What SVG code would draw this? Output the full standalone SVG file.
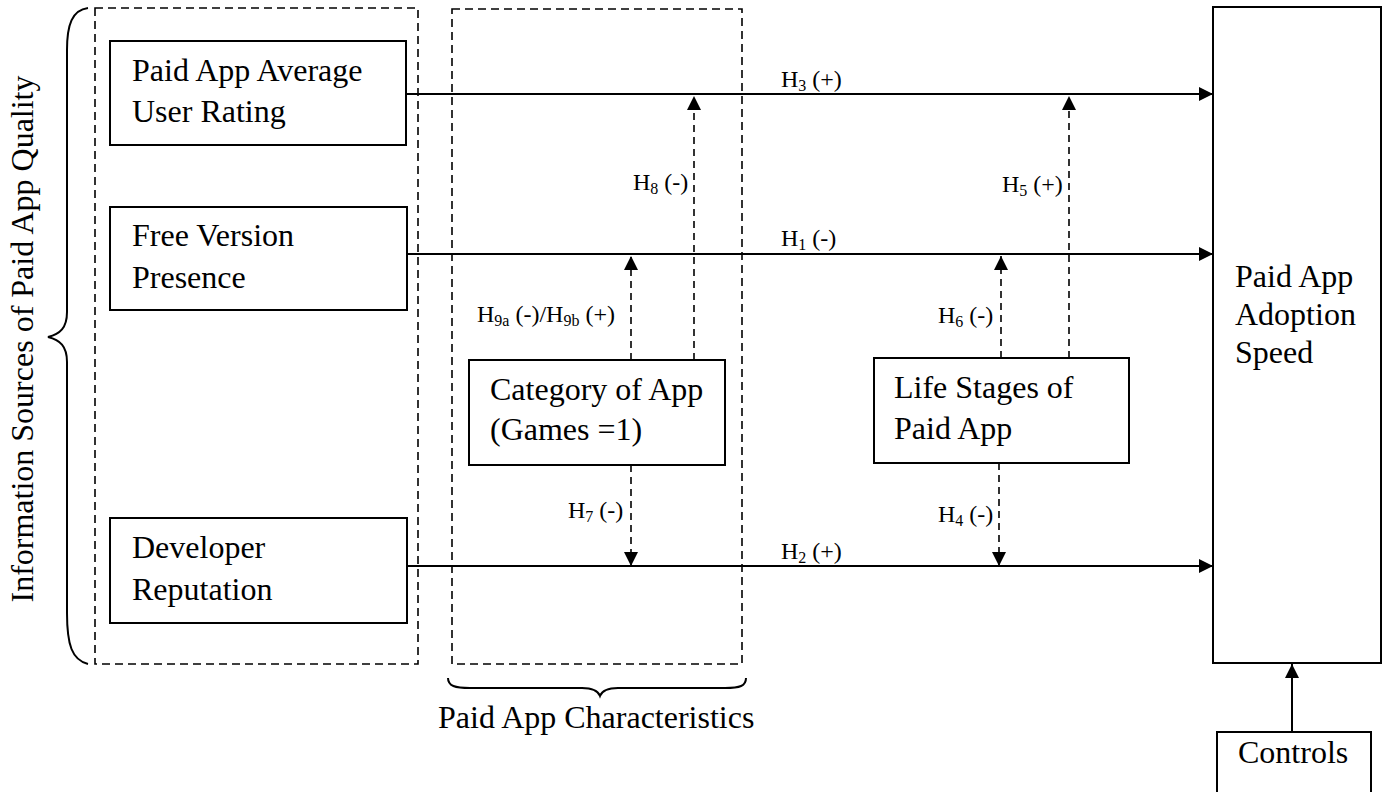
<svg xmlns="http://www.w3.org/2000/svg" width="1387" height="792" viewBox="0 0 1387 792">
  <style>
    .box { fill: #ffffff; stroke: #000000; stroke-width: 2; }
    .group { fill: none; stroke: #000000; stroke-width: 1.6; stroke-dasharray: 8 5; }
    .brace { fill: none; stroke: #000000; stroke-width: 2; }
    .link { fill: none; stroke: #000000; stroke-width: 2; marker-end: url(#head); }
    .mod { fill: none; stroke: #000000; stroke-width: 1.6; stroke-dasharray: 7 5; marker-end: url(#head); }
    text { font-family: "Liberation Serif", "Times New Roman", serif; fill: #000000; }
    .t { font-size: 32px; }
    .h { font-size: 24px; }
    .sub { font-size: 16px; }
  </style>
  <defs>
    <marker id="head" markerUnits="userSpaceOnUse" markerWidth="14" markerHeight="14" refX="14" refY="7" orient="auto">
      <path d="M0,0 L14,7 L0,14 Z" fill="#000000"/>
    </marker>
  </defs>

  <rect width="1387" height="792" fill="#ffffff"/>

  <!-- groupings -->
  <g id="quality-sources">
    <rect class="group" x="95" y="8" width="323" height="656"/>
    <path class="brace" d="M88,8 C72,10 67,25 67,50 L67,312 C67,328 60,334 48,337 C60,340 67,346 67,362 L67,613 C67,645 72,660 88,664"/>
    <text class="t" transform="translate(33,339) rotate(-90)" text-anchor="middle">Information Sources of Paid App Quality</text>
  </g>
  <g id="characteristics">
    <rect class="group" x="452" y="9" width="290" height="655"/>
    <path class="brace" d="M448,678 C448,686 455,688 470,688 L582,688 C593,688 598,691 600,696 C602,691 607,688 618,688 L725,688 C740,688 746,686 746,678"/>
    <text class="t" x="438" y="728">Paid App Characteristics</text>
  </g>

  <!-- connectors -->
  <g id="connectors">
    <line class="link" x1="406" y1="94" x2="1213" y2="94"/>
    <line class="link" x1="407" y1="254" x2="1213" y2="254"/>
    <line class="link" x1="407" y1="566" x2="1213" y2="566"/>
    <line class="mod" x1="631" y1="360" x2="631" y2="256"/>
    <line class="mod" x1="694" y1="360" x2="694" y2="96"/>
    <line class="mod" x1="631" y1="465" x2="631" y2="566"/>
    <line class="mod" x1="1001" y1="358" x2="1001" y2="256"/>
    <line class="mod" x1="1069" y1="358" x2="1069" y2="96"/>
    <line class="mod" x1="999" y1="463" x2="999" y2="566"/>
    <line class="link" x1="1292" y1="732" x2="1292" y2="664"/>

    <text class="h" x="781" y="87">H<tspan class="sub" dy="4">3</tspan><tspan dy="-4"> (+)</tspan></text>
    <text class="h" x="781" y="246">H<tspan class="sub" dy="4">1</tspan><tspan dy="-4"> (-)</tspan></text>
    <text class="h" x="781" y="559">H<tspan class="sub" dy="4">2</tspan><tspan dy="-4"> (+)</tspan></text>
    <text class="h" x="633" y="190">H<tspan class="sub" dy="4">8</tspan><tspan dy="-4"> (-)</tspan></text>
    <text class="h" x="477" y="322">H<tspan class="sub" dy="4">9a</tspan><tspan dy="-4"> (-)/H</tspan><tspan class="sub" dy="4">9b</tspan><tspan dy="-4"> (+)</tspan></text>
    <text class="h" x="568" y="518">H<tspan class="sub" dy="4">7</tspan><tspan dy="-4"> (-)</tspan></text>
    <text class="h" x="1002" y="192">H<tspan class="sub" dy="4">5</tspan><tspan dy="-4"> (+)</tspan></text>
    <text class="h" x="938" y="323">H<tspan class="sub" dy="4">6</tspan><tspan dy="-4"> (-)</tspan></text>
    <text class="h" x="938" y="522">H<tspan class="sub" dy="4">4</tspan><tspan dy="-4"> (-)</tspan></text>
  </g>

  <!-- nodes -->
  <g id="rating">
    <rect class="box" x="110" y="41" width="296" height="104"/>
    <text class="t" x="132" y="81">Paid App Average</text>
    <text class="t" x="132" y="122">User Rating</text>
  </g>
  <g id="free-version">
    <rect class="box" x="110" y="207" width="297" height="103"/>
    <text class="t" x="132" y="246">Free Version</text>
    <text class="t" x="132" y="288">Presence</text>
  </g>
  <g id="developer">
    <rect class="box" x="110" y="518" width="297" height="105"/>
    <text class="t" x="132" y="558">Developer</text>
    <text class="t" x="132" y="600">Reputation</text>
  </g>
  <g id="category">
    <rect class="box" x="469" y="360" width="256" height="105"/>
    <text class="t" x="490" y="400">Category of App</text>
    <text class="t" x="490" y="440">(Games =1)</text>
  </g>
  <g id="life-stages">
    <rect class="box" x="874" y="358" width="255" height="105"/>
    <text class="t" x="894" y="398">Life Stages of</text>
    <text class="t" x="894" y="439">Paid App</text>
  </g>
  <g id="adoption">
    <rect class="box" x="1213" y="7" width="168" height="656"/>
    <text class="t" x="1235" y="287">Paid App</text>
    <text class="t" x="1235" y="325">Adoption</text>
    <text class="t" x="1235" y="363">Speed</text>
  </g>
  <g id="controls">
    <rect class="box" x="1217" y="732" width="154" height="70"/>
    <text class="t" x="1238" y="763">Controls</text>
  </g>
</svg>
